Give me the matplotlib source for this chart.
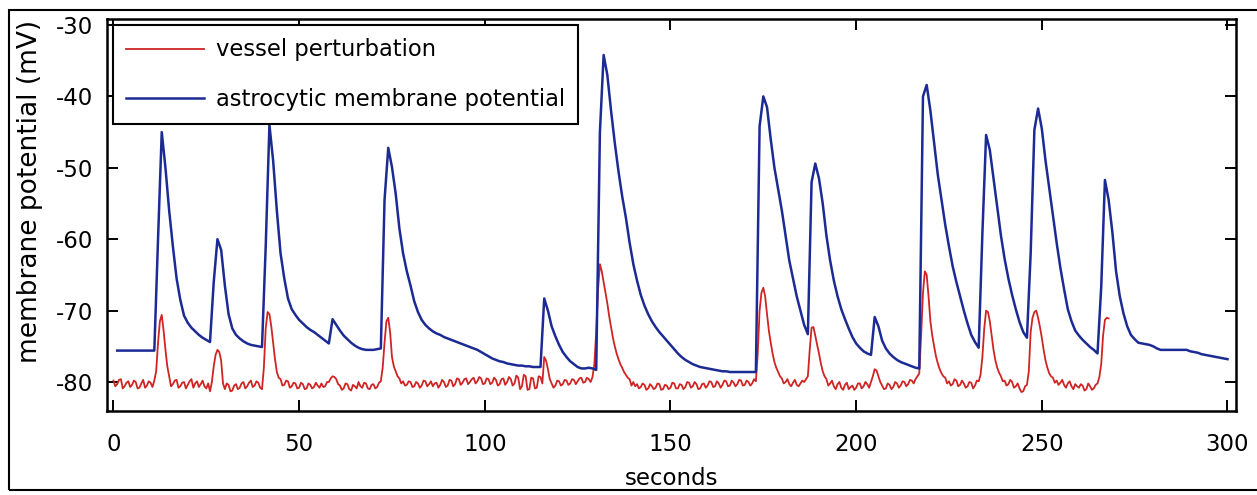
import numpy as np
import matplotlib
matplotlib.use("Agg")
import matplotlib.pyplot as plt
from matplotlib.patches import Rectangle

plt.rcParams['font.family'] = ['DejaVu Sans']
plt.rcParams['axes.unicode_minus'] = False

# astrocytic membrane potential, one value per second from t = 1 s
astro_t = np.arange(1, 301)
astro_mv = [
    -75.6, -75.6, -75.6, -75.6, -75.6, -75.6, -75.6, -75.6, -75.6, -75.6,
    -75.6, -60.0, -45.0, -50.0, -56.0, -61.0, -65.5, -68.5, -70.7, -71.7,
    -72.4, -72.9, -73.4, -73.8, -74.1, -74.4, -66.0, -60.0, -61.5, -66.5,
    -70.5, -72.5, -73.4, -73.9, -74.3, -74.6, -74.8, -74.9, -75.0, -75.1,
    -61.0, -44.0, -49.0, -56.0, -62.0, -65.5, -68.3, -69.8, -70.6, -71.3,
    -71.8, -72.3, -72.7, -73.0, -73.4, -73.8, -74.2, -74.6, -71.2, -72.0,
    -72.8, -73.5, -74.0, -74.5, -74.9, -75.2, -75.4, -75.5, -75.5, -75.5,
    -75.4, -75.3, -54.5, -47.2, -49.9, -53.6, -58.5, -62.0, -64.5, -66.5,
    -68.7, -70.2, -71.3, -72.0, -72.5, -72.9, -73.2, -73.4, -73.7, -73.9,
    -74.1, -74.3, -74.5, -74.7, -74.9, -75.1, -75.3, -75.5, -75.8, -76.1,
    -76.4, -76.7, -76.9, -77.1, -77.2, -77.4, -77.5, -77.6, -77.7, -77.7,
    -77.8, -77.8, -77.9, -77.9, -77.9, -68.3, -70.0, -72.2, -73.6, -74.8,
    -75.8, -76.5, -77.1, -77.5, -77.9, -78.1, -78.1, -78.0, -78.1, -78.3,
    -45.0, -34.2, -37.0, -42.0, -46.5, -50.5, -54.0, -57.0, -60.5, -63.5,
    -65.8, -67.8, -69.3, -70.5, -71.5, -72.3, -73.0, -73.6, -74.2, -74.8,
    -75.4, -76.0, -76.5, -76.9, -77.2, -77.5, -77.7, -77.9, -78.0, -78.1,
    -78.2, -78.3, -78.4, -78.5, -78.5, -78.6, -78.6, -78.6, -78.6, -78.6,
    -78.6, -78.6, -78.6, -44.2, -40.0, -41.5, -46.0, -50.0, -53.0, -56.0,
    -59.5, -63.0, -65.5, -68.0, -70.0, -72.0, -73.3, -52.0, -49.4, -51.5,
    -55.0, -59.5, -63.0, -65.8, -68.0, -69.8, -71.2, -72.5, -73.7, -74.6,
    -75.2, -75.7, -76.0, -76.2, -70.9, -72.2, -74.2, -75.3, -76.0, -76.5,
    -76.9, -77.2, -77.4, -77.6, -77.8, -78.0, -78.1, -40.0, -38.4, -42.0,
    -46.5, -51.0, -54.5, -58.0, -61.0, -63.8, -66.0, -68.0, -70.0, -71.8,
    -73.4, -74.4, -75.2, -59.2, -45.4, -47.5, -51.5, -55.5, -59.5, -62.8,
    -65.5, -67.8, -69.8, -71.6, -73.0, -73.8, -62.0, -44.7, -41.7, -44.5,
    -49.0, -52.8, -56.5, -60.5, -64.0, -67.0, -69.8, -71.5, -72.8, -73.5,
    -74.1, -74.6, -75.1, -75.5, -76.0, -66.7, -51.7, -54.5, -59.0, -64.5,
    -68.0, -70.4, -72.2, -73.4, -74.0, -74.5, -74.6, -74.7, -74.8, -75.0,
    -75.3, -75.5, -75.5, -75.5, -75.5, -75.5, -75.5, -75.5, -75.5, -75.7,
    -75.8, -75.9, -76.1, -76.2, -76.3, -76.4, -76.5, -76.6, -76.7, -76.8,
]

# vessel perturbation, every half second from t = 0 s to 268 s
vessel_t = np.arange(0, 268.5, 0.5)
vessel_mv = [
    -79.8, -80.6, -80.3, -79.7, -79.6, -80.9, -80.6, -80.1, -79.9, -80.7,
    -80.4, -79.8, -80.0, -80.9, -80.8, -80.2, -79.7, -80.8, -80.5, -79.9,
    -80.1, -80.7, -79.8, -78.5, -74.5, -71.5, -70.6, -72.8, -75.5, -77.8,
    -79.2, -80.6, -80.3, -79.8, -79.7, -80.8, -80.6, -80.1, -80.0, -80.9,
    -80.4, -79.9, -79.6, -80.8, -80.2, -79.9, -80.7, -80.3, -79.8, -80.6,
    -80.9, -80.2, -81.3, -80.0, -77.8, -76.2, -75.5, -75.8, -77.0, -80.2,
    -81.0, -80.2, -80.4, -81.3, -81.2, -80.5, -80.3, -81.0, -80.8, -80.2,
    -80.0, -80.9, -80.6, -80.1, -79.8, -80.7, -80.5, -79.9, -80.1, -80.8,
    -81.0, -78.0, -72.5, -70.2, -70.5, -72.2, -74.5, -76.8, -78.6, -79.4,
    -79.6, -80.5, -80.4, -79.8, -79.9, -80.8, -80.6, -80.1, -80.2, -80.9,
    -80.8, -80.1, -80.3, -81.0, -80.9, -80.2, -80.4, -80.9, -80.7, -80.1,
    -80.5, -80.8, -80.2, -80.7, -80.6, -80.0, -80.0, -79.5, -79.2, -79.3,
    -79.6, -80.3, -80.5, -81.1, -80.9, -80.2, -80.3, -81.0, -81.2, -80.4,
    -80.6, -80.9, -80.0, -80.6, -80.8, -80.1, -80.2, -80.9, -81.0, -80.4,
    -80.3, -80.9, -80.7, -80.1, -79.9, -78.0, -74.5, -71.5, -71.0, -73.0,
    -76.5, -77.8, -78.5, -79.2, -79.5, -80.2, -79.9, -80.5, -80.4, -79.9,
    -80.0, -80.7, -80.6, -80.0, -80.2, -80.8, -80.5, -79.8, -79.9, -80.6,
    -80.3, -79.9, -80.6, -80.2, -80.1, -80.8, -80.4, -79.7, -80.0, -80.7,
    -80.5, -79.7, -79.8, -80.6, -80.3, -79.5, -79.6, -80.4, -80.1, -79.6,
    -79.5, -80.3, -80.0, -79.6, -79.4, -80.2, -79.9, -79.3, -79.5, -80.3,
    -80.2, -79.5, -79.6, -80.3, -80.1, -79.4, -79.7, -80.5, -80.3, -79.6,
    -79.5, -80.4, -80.0, -79.3, -79.6, -80.5, -80.2, -79.1, -79.4, -81.0,
    -80.6, -79.0, -79.2, -81.1, -81.0, -79.4, -79.5, -80.9, -80.8, -79.2,
    -79.3, -80.2, -76.5, -77.0, -78.2, -79.6, -80.2, -80.8, -80.5, -79.8,
    -79.9, -80.5, -80.3, -79.7, -79.8, -80.4, -80.2, -79.6, -79.7, -80.3,
    -79.9, -79.5, -79.4, -80.1, -80.0, -79.4, -79.6, -80.0, -79.3, -77.5,
    -73.0, -67.0, -63.5, -64.5, -66.0, -67.5, -69.0, -70.8, -72.3, -73.8,
    -75.0, -76.0, -76.8, -77.5, -78.0, -78.6, -79.0, -79.4, -79.6, -80.5,
    -80.0, -80.6, -80.3, -80.9, -80.7, -80.2, -80.4, -81.1, -80.9, -80.3,
    -80.6, -81.0, -80.8, -80.2, -80.3, -81.1, -81.0, -80.4, -80.5, -81.0,
    -80.8, -80.1, -80.2, -80.9, -80.9, -80.3, -80.4, -81.0, -80.7, -80.0,
    -80.1, -80.8, -80.6, -80.0, -80.3, -81.0, -80.9, -80.3, -80.2, -80.8,
    -80.5, -79.9, -80.0, -80.7, -80.6, -79.9, -80.2, -80.8, -80.4, -79.8,
    -79.9, -80.6, -80.5, -79.8, -80.1, -80.6, -80.3, -79.7, -79.8, -80.5,
    -80.4, -79.8, -80.0, -80.5, -80.2, -79.6, -79.9, -76.0, -70.0, -67.5,
    -66.8, -68.0, -70.5, -72.8, -74.5, -76.0, -77.2, -78.0, -78.6, -79.2,
    -79.5, -80.2, -80.0, -79.6, -80.3, -80.6, -80.1, -79.7, -80.4, -80.6,
    -80.2, -79.8, -80.0, -79.6, -79.2, -75.5, -72.4, -72.3, -73.5, -74.8,
    -76.0, -77.4, -78.5, -79.2, -79.6, -80.5, -80.2, -79.8, -80.6, -81.0,
    -80.3, -80.0, -80.8, -81.1, -80.4, -80.1, -81.0, -80.7, -80.5, -81.1,
    -80.8, -80.2, -80.2, -80.9, -80.6, -80.0, -80.3, -80.8, -80.0, -79.2,
    -78.2, -78.4, -79.2, -80.0, -80.5, -81.0, -80.9, -80.2, -80.4, -81.0,
    -80.7, -80.0, -80.2, -80.8, -80.5, -79.9, -80.0, -80.6, -80.3, -79.7,
    -79.8, -80.2, -79.6, -79.2, -78.8, -73.5, -67.5, -64.5, -65.0, -68.0,
    -71.5, -73.5, -75.0, -76.4, -77.4, -78.2, -78.8, -79.2, -79.4, -80.2,
    -79.9, -80.5, -80.3, -79.6, -79.8, -80.6, -80.4, -79.8, -80.2, -80.8,
    -80.6, -80.0, -80.1, -80.9, -80.5, -79.8, -79.9, -79.0, -76.5, -72.5,
    -70.0, -70.2, -71.5, -73.5, -75.5, -77.0, -78.0, -78.7, -79.2, -79.9,
    -79.8, -80.5, -80.3, -79.7, -80.0, -80.8, -80.6, -80.2, -80.9, -81.4,
    -81.3, -80.6, -80.4, -78.5, -73.0, -71.0, -70.2, -70.0, -71.0, -72.3,
    -73.8, -75.5, -77.0, -78.0, -78.8, -79.2, -79.4, -80.1, -79.8, -80.4,
    -80.1, -79.7, -80.4, -80.8, -80.2, -79.9, -80.6, -81.0, -80.3, -80.6,
    -80.8, -80.3, -80.5, -81.2, -81.0, -80.2, -80.6, -81.1, -80.9, -80.4,
    -80.2, -79.3, -77.5, -73.5, -71.3, -71.0, -71.1,
]

x_ticks = [0, 50, 100, 150, 200, 250, 300]
y_ticks = [-80, -70, -60, -50, -40, -30]

fig = plt.figure(figsize=(12.57, 4.95), dpi=100)
ax = fig.add_axes([0.0851, 0.1697, 0.8982, 0.7919])

ax.plot(vessel_t, vessel_mv, color="#d02424", lw=1.3, label="vessel perturbation")
ax.plot(astro_t, astro_mv, color="#1c2a94", lw=1.8,
        label="astrocytic membrane potential")

ax.set_xlim(-1.75, 302.3)
ax.set_ylim(-84.06, -29.16)
ax.set_xticks(x_ticks)
ax.set_yticks(y_ticks)
ax.tick_params(direction="in", length=8, width=1.4, top=True, right=True,
               labelsize=16.5)
ax.tick_params(axis="x", pad=16)
ax.tick_params(axis="y", pad=10)
for sp in ax.spines.values():
    sp.set_linewidth(1.8)

ax.set_xlabel("seconds", fontsize=16.5, labelpad=8)
ax.set_ylabel("membrane potential (mV)", fontsize=19)
# the label sits a little above the middle of the axis in the original
ax.yaxis.set_label_coords(-0.057, 0.56)

leg = ax.legend(loc="upper left", bbox_to_anchor=(0.005, 0.985), borderaxespad=0,
                fontsize=16.3, handlelength=3.45, handletextpad=0.5,
                labelspacing=1.15, borderpad=0.6, fancybox=False,
                edgecolor="black", framealpha=1)
leg.get_frame().set_linewidth(1.5)

# outer frame round the figure
fig.patches.append(Rectangle((9 / 1257, 5 / 495), 1.02, 480 / 495,
                             transform=fig.transFigure, fill=False,
                             edgecolor="black", lw=1.5, clip_on=False))

fig.savefig("out.png", dpi=100)
